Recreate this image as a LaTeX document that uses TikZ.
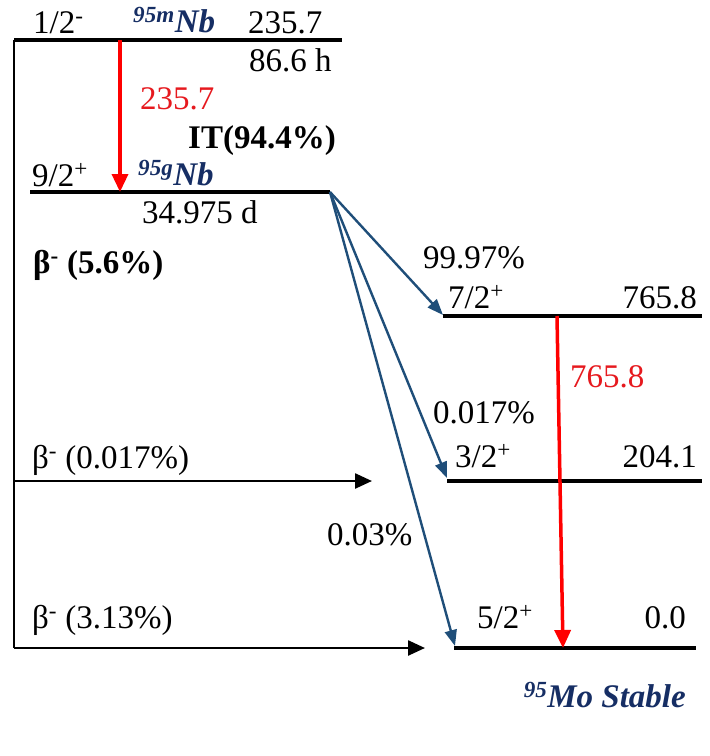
\documentclass[tikz,border=0pt]{standalone}
\usepackage{fontspec}
\setmainfont{Liberation Serif}
\usetikzlibrary{arrows.meta}
\definecolor{navy}{RGB}{22,46,100}
\definecolor{arrowblue}{RGB}{31,78,121}
\definecolor{gred}{RGB}{255,0,0}
\definecolor{tred}{RGB}{230,25,30}
\begin{document}
\begin{tikzpicture}[x=1pt,y=-1pt,
  every node/.style={inner sep=0pt, font=\fontsize{33}{39}\selectfont},
  txt/.style={anchor=base west},
  txte/.style={anchor=base east},
  nuc/.style={text=navy, font=\fontsize{33}{39}\selectfont\bfseries\itshape},
  bold/.style={font=\fontsize{33}{39}\selectfont\bfseries},
  lvl/.style={line width=4pt},
  feed/.style={line width=2pt},
  beta/.style={line width=2.5pt, -{Triangle[length=17pt,width=15pt]}},
  gam/.style={gred, line width=3.5pt, -{Triangle[length=18pt,width=16pt]}},
  bl/.style={arrowblue, line width=2.4pt, -{Triangle[length=16pt,width=12pt]}}]
\useasboundingbox (0,0) rectangle (710,756);
% level coordinates
\coordinate (mL) at (14,40);   \coordinate (mR) at (342,40);
\coordinate (gL) at (30,192);  \coordinate (gR) at (330,192);
\coordinate (aL) at (443,316); \coordinate (aR) at (702,316);
\coordinate (bL) at (447,481); \coordinate (bR) at (702,481);
\coordinate (cL) at (454,648); \coordinate (cR) at (696,648);
\coordinate (vB) at (14,648);
\coordinate (v2) at (14,481);
\coordinate (t2) at (372,481);
\coordinate (t3) at (425,648);
\coordinate (itS) at (120,40);  \coordinate (itE) at (120,192);
\coordinate (gS) at (557,316);  \coordinate (gE) at (563,648);
\coordinate (bt1) at (443,315);
\coordinate (bt2) at (447,478);
\coordinate (bt3) at (455,646);
% levels
\draw[lvl] (mL) -- (mR);
\draw[lvl] (gL) -- (gR);
\draw[lvl] (aL) -- (aR);
\draw[lvl] (bL) -- (bR);
\draw[lvl] (cL) -- (cR);
% feeding
\draw[feed] (mL) -- (vB);
\draw[beta] (v2) -- (t2);
\draw[beta] (vB) -- (t3);
% gammas
\draw[gam] (itS) -- (itE);
\draw[gam] (gS) -- (gE);
% beta branches
\draw[bl] (gR) -- (bt1);
\draw[bl] (gR) -- (bt2);
\draw[bl] (gR) -- (bt3);
% texts
\node[txt] (s1) at (33,33) {1/2\textsuperscript{-}};
\node[txt,nuc] (nbm) at (133,32) {\textsuperscript{95m}Nb};
\node[txt] (e1) at (248,33) {235.7};
\node[txt] (h1) at (249,71) {86.6 h};
\node[txt,text=tred] (g1) at (140,109) {235.7};
\node[txt,bold] (it) at (188,148) {IT(94.4\%)};
\node[txt] (s2) at (32,186) {9/2\textsuperscript{+}};
\node[txt,nuc] (nbg) at (138,185) {\textsuperscript{95g}Nb};
\node[txt] (h2) at (142,223) {34.975 d};
\node[txt,bold] (b56) at (33,273) {β\textsuperscript{-} (5.6\%)};
\node[txt] (p1) at (423,268) {99.97\%};
\node[txt] (s3) at (448,308) {7/2\textsuperscript{+}};
\node[txte] (e3) at (697,308) {765.8};
\node[txt,text=tred] (g2) at (570,387) {765.8};
\node[txt] (p2) at (433,423) {0.017\%};
\node[txt] (s4) at (455,467) {3/2\textsuperscript{+}};
\node[txte] (e4) at (697,467) {204.1};
\node[txt] (b2) at (32,468) {β\textsuperscript{-} (0.017\%)};
\node[txt] (p3) at (327,545) {0.03\%};
\node[txt] (b3) at (32,628) {β\textsuperscript{-} (3.13\%)};
\node[txt] (s5) at (477,628) {5/2\textsuperscript{+}};
\node[txte] (e5) at (686,628) {0.0};
\node[txte,nuc] (mo) at (686,707) {\textsuperscript{95}Mo Stable};
\end{tikzpicture}
\end{document}
